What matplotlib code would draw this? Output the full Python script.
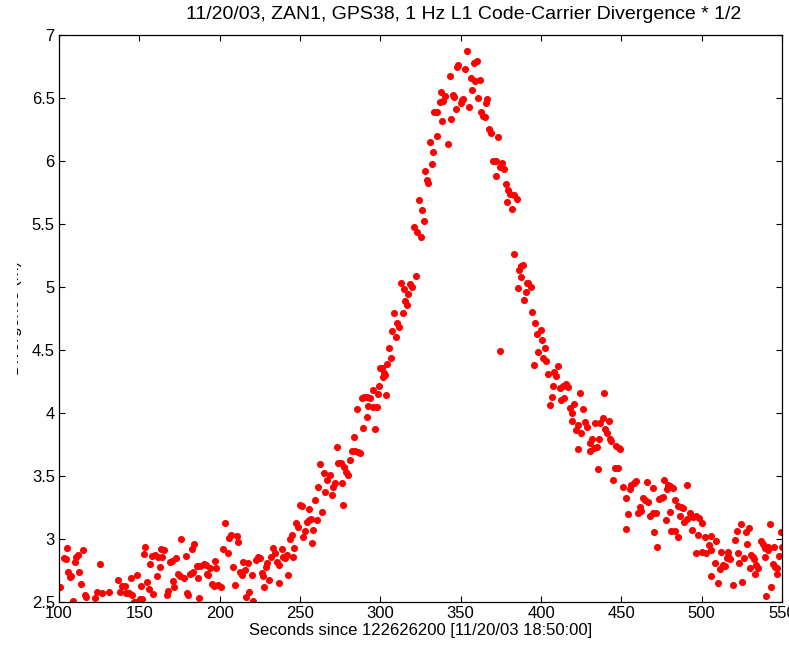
import matplotlib
matplotlib.use("Agg")
import matplotlib.pyplot as plt
from matplotlib.transforms import Bbox

# ---- data (seconds, divergence in m) ----
seconds = [
    100.8, 103.3, 104.1, 104.8, 105.8, 107.0, 107.6, 108.9, 110.0, 110.6,
    111.6, 112.4, 113.7, 115.1, 116.0, 116.8, 122.4, 123.9, 125.7, 127.0,
    131.1, 136.9, 138.2, 139.0, 141.1, 141.7, 143.6, 144.8, 145.6, 146.9,
    148.3, 148.8, 150.4, 150.8, 151.9, 152.7, 153.5, 154.8, 156.0, 156.6,
    157.7, 158.5, 159.8, 160.8, 161.8, 162.9, 163.5, 164.3, 165.6, 167.0,
    168.0, 169.1, 170.5, 170.7, 171.8, 172.6, 173.9, 175.3, 175.9, 178.0,
    178.8, 179.5, 180.5, 181.5, 182.6, 183.0, 183.6, 184.2, 185.7, 186.3,
    187.3, 187.8, 190.2, 191.3, 191.9, 192.9, 194.0, 195.0, 196.7, 197.1,
    197.7, 199.2, 200.8, 202.3, 203.3, 205.0, 205.8,
    207.0, 208.0, 209.7, 211.0, 211.6, 212.6, 213.7, 214.7, 215.7, 216.4,
    217.8, 218.4, 219.9, 220.5, 222.6, 224.0, 225.1, 226.1, 226.7, 227.6,
    228.8, 229.6, 230.9, 231.7, 233.4, 234.4, 235.4, 236.7, 237.1, 238.8,
    239.6, 240.6, 241.7, 242.7, 243.7, 244.8, 245.4, 246.4, 247.5, 248.9,
    249.9, 251.0, 251.6, 253.1, 254.1, 255.6, 255.8, 256.8, 257.2, 258.3,
    259.5, 260.3, 261.4, 262.4, 263.5, 264.9, 265.7, 266.6, 268.6, 269.7,
    270.7, 272.0, 272.8, 273.8, 275.3, 275.9, 276.5, 277.4, 278.6, 280.0,
    281.1, 282.1, 283.6, 284.2, 285.7, 286.3, 287.3, 288.4, 289.4, 289.8,
    291.5, 291.9, 292.3, 293.5, 295.2, 295.6, 296.7, 297.7, 298.7, 299.4,
    299.8,
    300.8, 301.8, 302.2, 302.9, 303.5, 304.3, 305.6, 306.4, 307.4, 308.5,
    309.7, 310.5, 311.8, 312.6, 313.9, 314.7, 315.3, 316.3, 317.4, 318.4,
    319.5,
    320.9, 321.9, 323.0, 324.0, 325.1, 326.1, 327.1, 327.7, 328.8, 329.8,
    330.9, 331.9, 332.7, 333.3, 335.0, 335.4, 337.1, 337.7, 338.5, 339.2,
    340.2, 342.1, 343.1, 344.1, 345.2, 345.8, 346.8, 347.5, 348.5, 349.9,
    350.6, 351.4, 352.6, 353.7, 355.1, 356.2, 356.8, 358.2, 358.7, 360.3,
    361.0, 361.8, 362.8, 364.1, 365.1, 365.7, 366.5, 367.6, 368.6, 370.3,
    371.7, 372.1, 373.0, 374.2, 374.4, 375.9, 376.9, 378.0, 379.0, 379.4,
    380.6, 381.7, 383.1,
    383.4, 385.2, 385.8, 386.4, 387.3, 387.5, 388.5, 389.5, 390.6, 391.4,
    392.0, 393.5, 394.3, 395.4, 396.4, 397.2, 398.3, 399.7, 400.7, 401.4,
    402.6, 403.4, 404.5, 405.5, 406.6, 407.2, 408.2, 409.3, 410.3, 411.7,
    412.4, 413.4, 414.2, 415.5, 416.5, 418.0, 419.0, 419.6, 420.5, 421.7,
    423.2, 424.2, 425.2, 426.3, 427.3, 428.8, 431.5, 433.5, 436.2, 437.0,
    438.3, 439.1, 439.8, 441.2, 442.2, 442.9,
    422.9, 430.3, 430.7, 432.8, 434.9, 435.5, 443.6, 444.8, 446.3, 446.9,
    448.4, 448.0, 449.4,
    451.1, 452.6, 454.2, 453.2, 456.3, 455.3, 458.0, 459.2, 465.7, 469.4,
    463.4, 465.0, 466.7, 461.5, 462.5, 460.5, 467.7, 469.8, 471.3, 470.2,
    472.3, 473.3, 474.6, 476.0, 476.4, 479.1, 480.2, 482.3, 478.5, 480.6,
    477.5, 483.3, 481.2, 483.6, 485.0, 485.4, 487.0, 488.5, 490.6, 486.6,
    489.1, 491.0, 492.6, 494.7, 496.2, 498.2, 499.9, 494.1, 497.8, 502.0,
    505.7, 496.4, 500.3, 503.0, 504.5, 506.1, 509.2, 508.2, 505.5, 510.3,
    511.3, 513.4, 514.4, 512.3, 516.1, 515.5, 517.5, 516.5, 519.2, 520.6,
    521.7, 524.4, 522.7, 523.1, 525.2, 526.5, 527.9, 529.4, 528.5, 530.0,
    531.0, 532.1, 532.7, 533.1, 534.1, 535.2, 536.8, 538.3, 539.3, 541.0,
    539.7, 542.4, 541.4, 544.5, 545.5, 546.6, 547.0, 543.0, 540.3, 548.0,
    545.1, 549.1, 550.3,
]

divergence = [
    2.62, 2.847, 2.839, 2.93, 2.74, 2.70, 2.705, 2.51, 2.82, 2.855,
    2.87, 2.735, 2.64, 2.91, 2.556, 2.54, 2.535, 2.58, 2.80, 2.57,
    2.58, 2.675, 2.577, 2.63, 2.63, 2.575, 2.57, 2.693, 2.556, 2.50,
    2.503, 2.715, 2.52, 2.63, 2.52, 2.88, 2.934, 2.66, 2.604, 2.80,
    2.866, 2.564, 2.873, 2.704, 2.86, 2.78, 2.918, 2.86, 2.913, 2.553,
    2.59, 2.82, 2.828, 2.667, 2.622, 2.847, 2.72, 2.707, 3.00, 2.688,
    2.866, 2.575, 2.556, 2.72, 2.733, 2.918, 2.74, 2.958, 2.786, 2.688,
    2.53, 2.789, 2.80, 2.794, 2.72, 2.715, 2.767, 2.64, 2.63, 2.828,
    2.767, 2.635, 2.62, 2.92, 3.125, 2.89, 3.006,
    3.03, 2.78, 2.635, 3.02, 2.98, 2.74, 2.715, 2.82, 2.754, 2.542,
    2.807, 2.58, 2.715, 2.51, 2.834, 2.86, 2.847, 2.728, 2.707, 2.622,
    2.78, 2.807, 2.675, 2.86, 2.926, 2.892, 2.82, 2.648, 2.794, 2.918,
    2.86, 2.847, 2.873, 2.715, 3.0, 3.032, 2.855, 2.926, 3.13, 3.098,
    3.27, 3.262, 3.013, 3.066, 3.138, 3.236, 3.151, 3.156, 2.966, 3.072,
    3.31, 3.151, 3.415, 3.595, 3.217, 3.521, 3.376, 3.468, 3.508, 3.35,
    3.415, 3.442, 3.733, 3.606, 3.6, 3.447, 3.27, 3.574, 3.535, 3.508,
    3.627, 3.701, 3.812, 3.701, 4.029, 3.693, 3.68, 4.117, 3.878, 4.13,
    3.971, 4.124, 4.056, 4.117, 4.183, 4.05, 3.873, 4.045, 4.15, 4.215,
    4.355,
    4.36, 4.289, 4.315, 4.302, 4.143, 4.389, 4.519, 4.434, 4.651, 4.797,
    4.606, 4.717, 4.68, 5.03, 4.797, 4.982, 4.892, 4.857, 4.945, 5.021,
    4.998,
    5.474, 5.088, 5.434, 5.69, 5.394, 5.61, 5.527, 5.921, 5.85, 5.828,
    6.154, 5.974, 6.074, 6.392, 6.201, 6.392, 6.471, 6.55, 6.32, 6.479,
    6.516, 6.133, 6.678, 6.33, 6.524, 6.511, 6.41, 6.749, 6.762, 6.463,
    6.484, 6.49, 6.73, 6.876, 6.432, 6.662, 6.564, 6.775, 6.638, 6.79,
    6.503, 6.643, 6.392, 6.357, 6.347, 6.463, 6.49, 6.252, 6.225, 6.003,
    6.003, 5.881, 6.193, 5.955, 4.495, 5.987, 5.934, 5.818, 5.672, 5.77,
    5.738, 5.617, 5.73,
    5.259, 5.696, 4.995, 5.135, 5.167, 5.082, 5.175, 4.897, 4.963, 5.029,
    5.034, 5.003, 4.804, 4.381, 4.712, 4.624, 4.481, 4.659, 4.579, 4.439,
    4.513, 4.415, 4.31, 4.064, 4.124, 4.217, 4.323, 4.296, 4.376, 4.196,
    4.103, 4.214, 4.122, 4.23, 4.204, 4.037, 4.003, 3.937, 4.069, 3.865,
    3.905, 4.161, 3.844, 4.029, 3.931, 3.892, 3.79, 3.918, 3.79, 3.918,
    3.963, 4.161, 3.87, 3.844, 3.937, 3.79,
    3.714, 3.765, 3.701, 3.72, 3.733, 3.556, 3.778, 3.468, 3.561, 3.738,
    3.72, 3.566, 3.712,
    3.41, 3.322, 3.195, 3.079, 3.428, 3.394, 3.441, 3.463, 3.449, 3.402,
    3.328, 3.309, 3.296, 3.251, 3.225, 3.209, 3.182, 3.203, 3.209, 3.053,
    2.939, 3.315, 3.328, 3.336, 3.468, 3.428, 3.42, 3.402, 3.394, 3.217,
    3.15, 3.309, 3.066, 3.06, 3.018, 3.262, 3.251, 3.243, 3.428, 3.182,
    3.137, 3.156, 3.209, 3.172, 3.182, 3.164, 3.13, 3.071, 3.031, 3.018,
    3.024, 2.891, 2.899, 2.886, 2.952, 2.912, 2.986, 2.807, 2.709, 2.653,
    2.759, 2.793, 2.786, 2.899, 2.899, 2.846, 2.838, 2.865, 2.632, 2.992,
    3.066, 3.119, 2.891, 2.807, 2.661, 2.846, 3.058, 3.084, 2.96, 2.772,
    2.873, 2.854, 2.838, 2.722, 2.793, 2.767, 2.986, 2.96, 2.926, 2.933,
    2.854, 3.119, 2.912, 2.801, 2.775, 2.767, 2.719, 2.621, 2.55, 2.865,
    2.933, 3.058, 2.933,
]

x_ticks = [100, 150, 200, 250, 300, 350, 400, 450, 500, 550]
y_ticks = [2.5, 3, 3.5, 4, 4.5, 5, 5.5, 6, 6.5, 7]
y_tick_labels = ["2.5", "3", "3.5", "4", "4.5", "5", "5.5", "6", "6.5", "7"]

title_text = "11/20/03, ZAN1, GPS38, 1 Hz L1 Code-Carrier Divergence * 1/2"
xlabel_text = "Seconds since 122626200 [11/20/03 18:50:00]"
ylabel_text = "Divergence (m)"

plt.rcParams["font.family"] = ["Liberation Sans", "DejaVu Sans"]

W, H = 789, 650
fig = plt.figure(figsize=(W / 100, H / 100), dpi=100)
ax = fig.add_axes([59 / W, (H - 602) / H, 723 / W, 567 / H])

ax.plot(seconds, divergence, linestyle="none", marker="o", markersize=5.1,
        color="#ff0000", markeredgecolor="none")

ax.set_xlim(100, 550)
ax.set_ylim(2.5, 7)
ax.set_xticks(x_ticks)
ax.set_yticks(y_ticks)
ax.set_yticklabels(y_tick_labels)
ax.tick_params(direction="in", length=4.5, width=0.8, top=True, right=True,
               labelsize=12, pad=3, colors="black")
for s in ax.spines.values():
    s.set_linewidth(0.9)
    s.set_color("black")

ax.set_xlabel(xlabel_text, fontsize=12, labelpad=1)
ax.text(0.56, 1.021, title_text, transform=ax.transAxes, ha="center",
        va="bottom", fontsize=14)

# y label: in the reference only a thin sliver of it is visible at the far left
yl = fig.text(22 / W, 332 / H, ylabel_text, rotation=90, ha="right",
              va="center", fontsize=12, color="black")
yl.set_clip_box(Bbox.from_extents(17, 0, 24, H))
yl.set_clip_on(True)

fig.savefig("out.png", dpi=100)
